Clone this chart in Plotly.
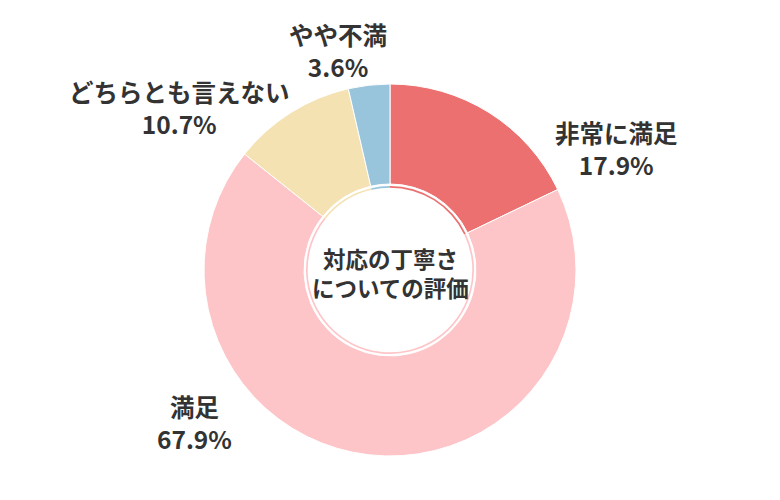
import plotly.graph_objects as go

categories = ["非常に満足", "満足", "どちらとも言えない", "やや不満"]
values = [17.9, 67.9, 10.7, 3.6]
colors = ["#EC7070", "#FEC5C8", "#F5E2B2", "#98C4DC"]
center_title = "対応の丁寧さ<br>についての評価"

# label anchor positions (pixels, layout only)
label_pos = [(616, 148), (194, 422), (179, 108), (338, 51)]

W, H = 780, 500
cx, cy, R = 390, 270, 186
r_ring = 84

def dom(r):
    return dict(x=[(cx - r) / W, (cx + r) / W], y=[(H - cy - r) / H, (H - cy + r) / H])

fig = go.Figure()
fig.add_trace(go.Pie(
    labels=categories, values=values, sort=False, direction="clockwise", rotation=0,
    hole=86 / R, marker=dict(colors=colors, line=dict(color="white", width=1)),
    textinfo="none", hoverinfo="label+percent", domain=dom(R), showlegend=False))
fig.add_trace(go.Pie(
    labels=categories, values=values, sort=False, direction="clockwise", rotation=0,
    hole=82.3 / r_ring, marker=dict(colors=colors, line=dict(width=0)),
    textinfo="none", hoverinfo="skip", domain=dom(r_ring), showlegend=False))

annotations = [dict(x=cx / W, y=(H - 272) / H, xref="paper", yref="paper",
                    text="<b>" + center_title + "</b>",
                    showarrow=False, font=dict(size=22.5, color="#333333",
                    family="Noto Sans CJK JP"), xanchor="center", yanchor="middle")]
for cat, v, (px, py) in zip(categories, values, label_pos):
    annotations.append(dict(x=px / W, y=(H - py) / H, xref="paper", yref="paper",
                            text=f"<b>{cat}<br>{v:.1f}%</b>", showarrow=False,
                            font=dict(size=24.5, color="#333333", family="Noto Sans CJK JP"),
                            xanchor="center", yanchor="middle"))

fig.update_layout(width=W, height=H, margin=dict(l=0, r=0, t=0, b=0),
                  paper_bgcolor="white", plot_bgcolor="white", annotations=annotations)
fig.write_html("out.html")
